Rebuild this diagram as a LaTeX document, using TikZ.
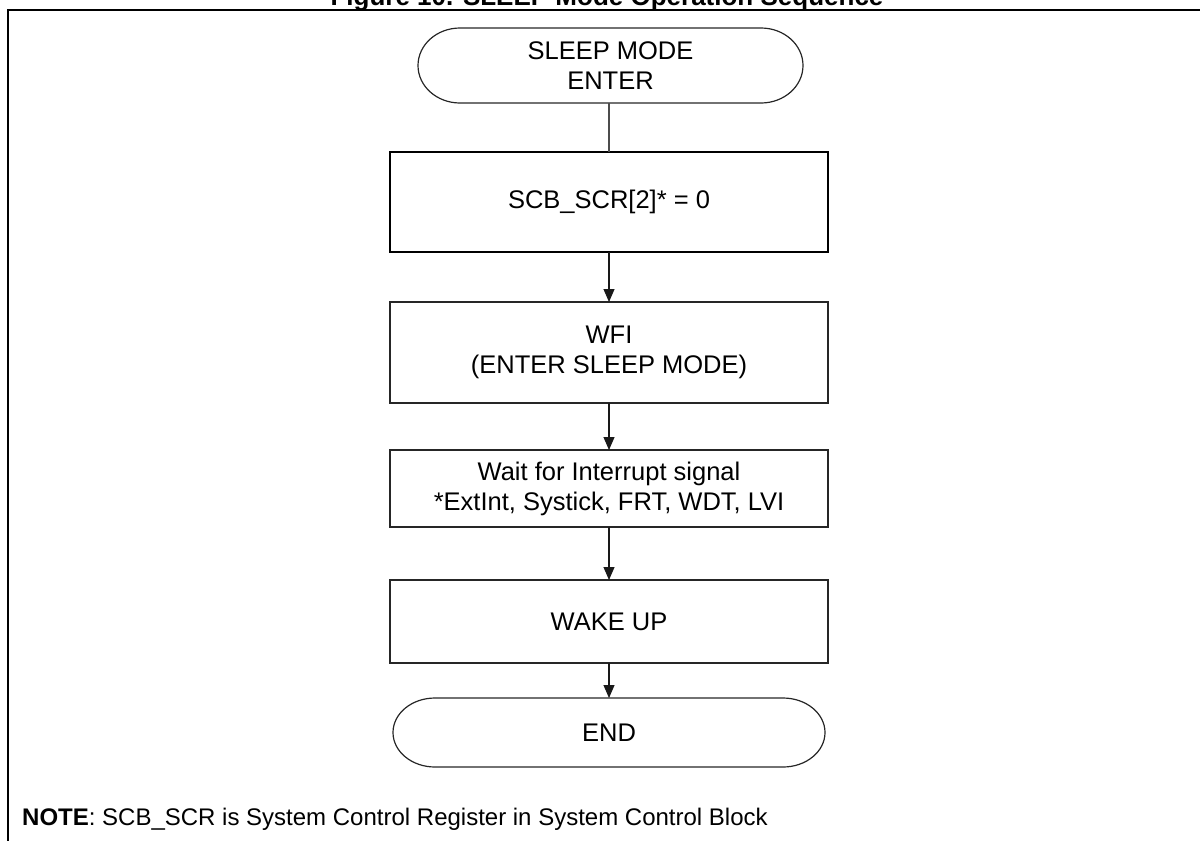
\documentclass[tikz,border=0pt]{standalone}
\usepackage{fontspec}
\setmainfont{Liberation Sans}
\usetikzlibrary{arrows.meta}
\begin{document}
\begin{tikzpicture}[x=1pt,y=1pt,
  txt/.style={font=\fontsize{25.5}{30}\selectfont, align=center, inner sep=0pt, outer sep=0pt},
  procbox/.style={txt, draw=black!85, line width=1.2pt, minimum width=438pt},
  thickbox/.style={txt, draw=black, line width=2.6pt, minimum width=438pt},
  termbox/.style={txt},
  termline/.style={draw=black!85, line width=1.2pt},
  flow/.style={draw=black!90, line width=1.1pt, -{Triangle[length=13pt,width=11pt]}},
  frameline/.style={draw=black, line width=2.6pt}
]
\useasboundingbox (0,0) rectangle (1200,-841);
% frame
\coordinate (ftl) at (8,-10);
\coordinate (ftr) at (1202,-10);
\coordinate (fbl) at (8,-843);
\draw[frameline] (ftr) -- (ftl) -- (fbl);
% title (cut off at top, as in the reference)
\node[anchor=base, font=\fontsize{26}{30}\selectfont\bfseries, inner sep=0pt] (title) at (607,-5) {Figure 10. SLEEP Mode Operation Sequence};
% start terminal
\node[termbox, minimum width=385pt, minimum height=75pt] (start) at (610.5,-65.5) {SLEEP MODE\\ENTER};
\draw[termline] ([xshift=42pt]start.north west) -- ([xshift=-42pt]start.north east)
  arc[start angle=90, end angle=-90, x radius=42pt, y radius=37.5pt]
  -- ([xshift=42pt]start.south west)
  arc[start angle=270, end angle=90, x radius=42pt, y radius=37.5pt] -- cycle;
% process boxes
\node[thickbox, minimum height=100pt] (scb) at (609,-202) {SCB\_SCR[2]* = 0};
\node[procbox, minimum height=101pt] (wfi) at (609,-352.5) {WFI\\(ENTER SLEEP MODE)};
\node[procbox, minimum height=77pt] (wait) at (609,-488.5) {Wait for Interrupt signal\\*ExtInt, Systick, FRT, WDT, LVI};
\node[procbox, minimum height=83pt] (wake) at (609,-621.5) {WAKE UP};
% end terminal
\node[termbox, minimum width=432pt, minimum height=69pt] (end) at (609,-732.5) {END};
\draw[termline] ([xshift=42pt]end.north west) -- ([xshift=-42pt]end.north east)
  arc[start angle=90, end angle=-90, x radius=42pt, y radius=34.5pt]
  -- ([xshift=42pt]end.south west)
  arc[start angle=270, end angle=90, x radius=42pt, y radius=34.5pt] -- cycle;
% connectors
\draw[draw=black!70, line width=1.1pt] (start.south -| scb.north) -- (scb.north);
\draw[flow] (scb.south) -- (wfi.north);
\draw[flow] (wfi.south) -- (wait.north);
\draw[flow] (wait.south) -- (wake.north);
\draw[flow] (wake.south) -- (end.north);
% note
\node[anchor=base west, font=\fontsize{24}{29}\selectfont, inner sep=0pt] (note) at (22,-825) {\textbf{NOTE}: SCB\_SCR is System Control Register in System Control Block};
\end{tikzpicture}
\end{document}
